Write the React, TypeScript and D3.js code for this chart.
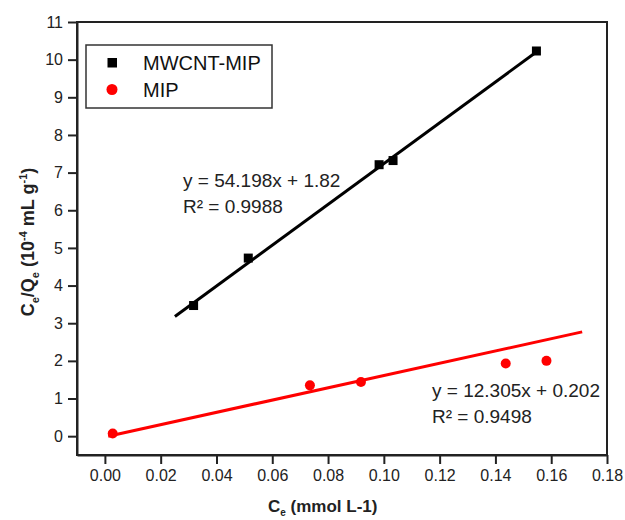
import React, { useRef, useEffect } from "react";
import * as d3 from "d3";

// ---- data ----
const mwcntX = [0.0318, 0.0514, 0.0983, 0.1033, 0.1547];
const mwcntY = [3.47, 4.73, 7.21, 7.32, 10.23];
const mipX = [0.0028, 0.0735, 0.0918, 0.1437, 0.1583];
const mipY = [0.07, 1.35, 1.44, 1.93, 2.0];

// fitted lines as drawn (end points)
const mwcntFitX = [0.0251, 0.1548];
const mwcntFitY = [3.18, 10.21];
const mipFitX = [0.0012, 0.1711];
const mipFitY = [0.0, 2.77];

const xTicks = [0, 0.02, 0.04, 0.06, 0.08, 0.1, 0.12, 0.14, 0.16, 0.18];
const yTicks = [0, 1, 2, 3, 4, 5, 6, 7, 8, 9, 10, 11];
const legendNames = ["MWCNT-MIP", "MIP"];

const FONT = "Arial, 'Liberation Sans', sans-serif";

export default function App() {
  const ref = useRef<SVGSVGElement>(null);

  useEffect(() => {
    const svg = d3.select(ref.current);
    svg.selectAll("*").remove();

    const dims = { width: 625, height: 520, margin: { top: 22, right: 18, bottom: 65, left: 77 } };
    const bw = dims.width - dims.margin.left - dims.margin.right;
    const bh = dims.height - dims.margin.top - dims.margin.bottom;

    const x = d3.scaleLinear().domain([-0.01, 0.18]).range([0, bw]);
    const y = d3.scaleLinear().domain([-0.5, 11]).range([bh, 0]);

    const g = svg.append("g").attr("transform", `translate(${dims.margin.left},${dims.margin.top})`);

    // frame
    g.append("rect")
      .attr("width", bw)
      .attr("height", bh)
      .attr("fill", "none")
      .attr("stroke", "#222")
      .attr("stroke-width", 2);

    // axes
    const xAxis = g
      .append("g")
      .attr("transform", `translate(0,${bh})`)
      .call(d3.axisBottom(x).tickValues(xTicks).tickFormat(d3.format(".2f")).tickSize(9).tickSizeOuter(0).tickPadding(6));
    const yAxis = g
      .append("g")
      .call(d3.axisLeft(y).tickValues(yTicks).tickFormat(d3.format("d")).tickSize(9).tickSizeOuter(0).tickPadding(5));

    [xAxis, yAxis].forEach((a) => {
      a.select(".domain").attr("stroke", "#222").attr("stroke-width", 2);
      a.selectAll(".tick line").attr("stroke", "#222").attr("stroke-width", 2);
      a.selectAll(".tick text").attr("fill", "#222").style("font-family", FONT).style("font-size", "16px");
    });

    const line = d3
      .line<[number, number]>()
      .x((d) => x(d[0]))
      .y((d) => y(d[1]));

    // fit lines
    g.append("path")
      .attr("d", line(d3.zip(mwcntFitX, mwcntFitY) as [number, number][]))
      .attr("stroke", "#000")
      .attr("stroke-width", 3)
      .attr("fill", "none");
    g.append("path")
      .attr("d", line(d3.zip(mipFitX, mipFitY) as [number, number][]))
      .attr("stroke", "#ff0000")
      .attr("stroke-width", 3)
      .attr("fill", "none");

    // points
    g.selectAll(".sq")
      .data(d3.zip(mwcntX, mwcntY))
      .join("rect")
      .attr("x", (d) => x(d[0]) - 4.5)
      .attr("y", (d) => y(d[1]) - 4.5)
      .attr("width", 9)
      .attr("height", 9)
      .attr("fill", "#000");
    g.selectAll(".ci")
      .data(d3.zip(mipX, mipY))
      .join("circle")
      .attr("cx", (d) => x(d[0]))
      .attr("cy", (d) => y(d[1]))
      .attr("r", 5)
      .attr("fill", "#ff0000");

    // equations
    const eq = (tx: number, ty: number, lines: string[]) => {
      lines.forEach((s, i) =>
        svg
          .append("text")
          .attr("x", tx)
          .attr("y", ty + i * 25.5)
          .attr("fill", "#222")
          .style("font-family", FONT)
          .style("font-size", "19px")
          .text(s)
      );
    };
    eq(183, 187, ["y = 54.198x + 1.82", "R² = 0.9988"]);
    eq(432, 397, ["y = 12.305x + 0.202", "R² = 0.9498"]);

    // legend
    const leg = svg.append("g");
    leg.append("rect")
      .attr("x", 86)
      .attr("y", 45)
      .attr("width", 186)
      .attr("height", 63)
      .attr("fill", "#fff")
      .attr("stroke", "#333")
      .attr("stroke-width", 1.5);
    leg.append("rect").attr("x", 107.5).attr("y", 58).attr("width", 9.5).attr("height", 9.5).attr("fill", "#000");
    leg.append("circle").attr("cx", 112).attr("cy", 89.5).attr("r", 5.5).attr("fill", "#ff0000");
    legendNames.forEach((n, i) =>
      leg
        .append("text")
        .attr("x", 143)
        .attr("y", 70 + i * 26.5)
        .attr("fill", "#111")
        .style("font-family", FONT)
        .style("font-size", "20px")
        .text(n)
    );

    // x title
    const xt = svg
      .append("text")
      .attr("x", 268)
      .attr("y", 512)
      .attr("fill", "#222")
      .style("font-family", FONT)
      .style("font-size", "17px")
      .style("font-weight", "bold");
    xt.append("tspan").text("C");
    xt.append("tspan").attr("dy", 4).style("font-size", "10px").text("e");
    xt.append("tspan").attr("dy", -4).text(" (mmol L-1)");

    // y title
    const yt = svg
      .append("text")
      .attr("transform", "translate(34,242) rotate(-90)")
      .attr("text-anchor", "middle")
      .attr("fill", "#222")
      .style("font-family", FONT)
      .style("font-size", "18px")
      .style("font-weight", "bold");
    yt.append("tspan").text("C");
    yt.append("tspan").attr("dy", 5).style("font-size", "11px").text("e");
    yt.append("tspan").attr("dy", -5).text("/Q");
    yt.append("tspan").attr("dy", 5).style("font-size", "11px").text("e");
    yt.append("tspan").attr("dy", -5).text(" (10");
    yt.append("tspan").attr("dy", -7).style("font-size", "11px").text("-4");
    yt.append("tspan").attr("dy", 7).text(" mL g");
    yt.append("tspan").attr("dy", -7).style("font-size", "11px").text("-1");
    yt.append("tspan").attr("dy", 7).text(")");
  }, []);

  return (
    <svg
      ref={ref}
      width={625}
      height={520}
      style={{ position: "absolute", left: 0, top: 0, background: "#fff" }}
    />
  );
}
